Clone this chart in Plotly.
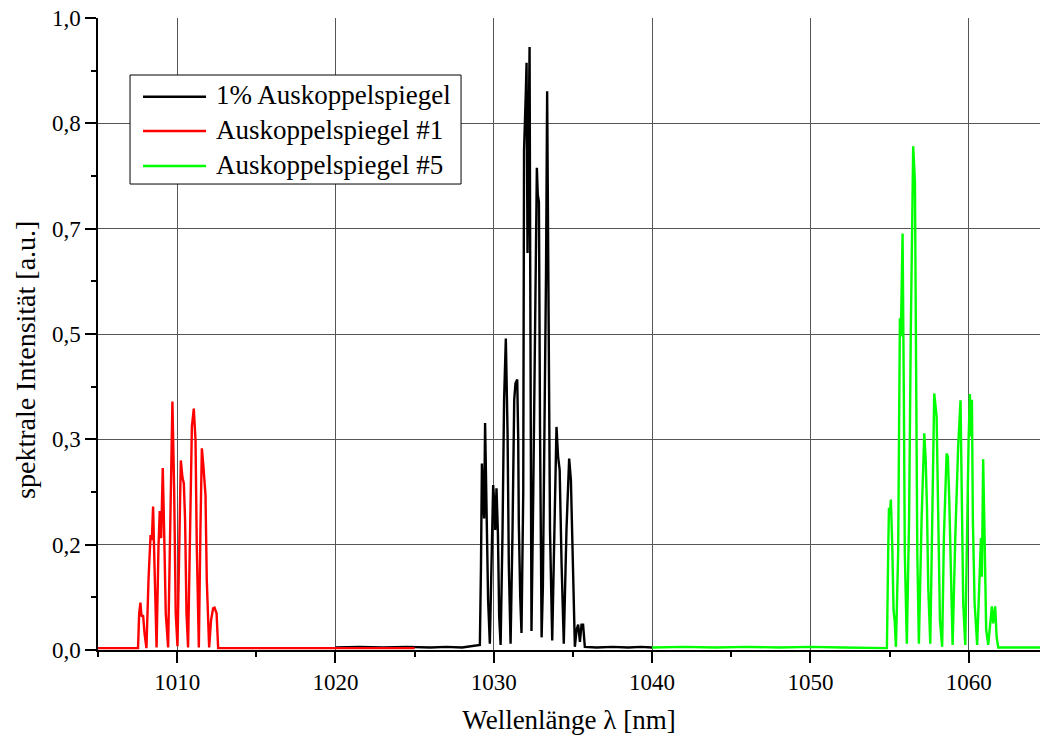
import plotly.graph_objects as go

# Emission spectra measured with three different output couplers
series_names = ["1% Auskoppelspiegel", "Auskoppelspiegel #1", "Auskoppelspiegel #5"]
series_colors = ["#000000", "#ff0000", "#00ff00"]

# 1% output coupler (black)
wl_1pct = [1020.0, 1021.5, 1023.0, 1024.5, 1026.0, 1027.0, 1028.0, 1028.6, 1029.12,
           1029.19, 1029.25, 1029.33, 1029.39, 1029.45, 1029.52, 1029.58, 1029.64, 1029.75,
           1029.86, 1029.96, 1030.02, 1030.09, 1030.17, 1030.26, 1030.34, 1030.43,
           1030.55, 1030.65, 1030.76, 1030.87, 1030.95, 1031.06,
           1031.18, 1031.29, 1031.37, 1031.48, 1031.54, 1031.58, 1031.67, 1031.75,
           1031.86, 1031.91, 1032.02, 1032.07, 1032.13, 1032.20, 1032.26, 1032.30, 1032.33, 1032.38,
           1032.49, 1032.60, 1032.72, 1032.78, 1032.85, 1032.92, 1033.02,
           1033.10, 1033.20, 1033.30, 1033.37, 1033.45, 1033.55, 1033.69,
           1033.81, 1033.96, 1034.06, 1034.16, 1034.28, 1034.42,
           1034.59, 1034.76, 1034.87, 1034.95, 1035.04, 1035.12,
           1035.23, 1035.33, 1035.44, 1035.54, 1035.64, 1035.75,
           1036.5, 1037.5, 1038.5, 1039.3, 1040.0]
int_1pct = [0.004, 0.005, 0.004, 0.005, 0.004, 0.005, 0.004, 0.006, 0.008,
            0.132, 0.295, 0.237, 0.208, 0.359, 0.264, 0.195, 0.079, 0.010,
            0.132, 0.261, 0.237, 0.190, 0.256, 0.185, 0.053, 0.008,
            0.185, 0.396, 0.493, 0.343, 0.132, 0.010,
            0.185, 0.396, 0.422, 0.428, 0.338, 0.200, 0.084, 0.027,
            0.250, 0.790, 0.880, 0.929, 0.628, 0.850, 0.954, 0.612, 0.300, 0.030,
            0.243, 0.470, 0.763, 0.720, 0.709, 0.350, 0.020,
            0.100, 0.330, 0.600, 0.884, 0.500, 0.190, 0.015,
            0.190, 0.353, 0.306, 0.285, 0.137, 0.010,
            0.190, 0.303, 0.269, 0.190, 0.058, 0.005,
            0.032, 0.040, 0.013, 0.040, 0.040, 0.005,
            0.004, 0.005, 0.004, 0.005, 0.004]

# Output coupler #1 (red)
wl_oc1 = [1005.0, 1006.5, 1007.53,
          1007.60, 1007.68, 1007.75, 1007.85, 1007.94, 1008.06,
          1008.19, 1008.32, 1008.40, 1008.48, 1008.57, 1008.70,
          1008.82, 1008.90, 1008.99, 1009.09, 1009.18, 1009.28, 1009.43,
          1009.58, 1009.70, 1009.81, 1009.91, 1010.02,
          1010.12, 1010.23, 1010.34, 1010.42, 1010.50, 1010.59, 1010.69,
          1010.82, 1010.93, 1011.05, 1011.16, 1011.24, 1011.37,
          1011.47, 1011.56, 1011.66, 1011.79, 1011.87, 1012.02,
          1012.14, 1012.27, 1012.36, 1012.49, 1012.59,
          1014.0, 1016.0, 1018.0, 1020.0, 1022.0, 1025.0]
int_oc1 = [0.003, 0.003, 0.003,
           0.058, 0.075, 0.053, 0.055, 0.026, 0.003,
           0.111, 0.182, 0.174, 0.227, 0.132, 0.004,
           0.163, 0.220, 0.177, 0.288, 0.185, 0.058, 0.004,
           0.216, 0.393, 0.253, 0.058, 0.006,
           0.163, 0.300, 0.272, 0.264, 0.206, 0.058, 0.004,
           0.216, 0.353, 0.382, 0.332, 0.163, 0.004,
           0.190, 0.319, 0.290, 0.245, 0.111, 0.004,
           0.047, 0.066, 0.067, 0.058, 0.003,
           0.003, 0.003, 0.003, 0.003, 0.003, 0.003]

# Output coupler #5 (green)
wl_oc5 = [1040.0, 1042.0, 1044.0, 1046.0, 1048.0, 1050.0, 1052.0, 1054.83,
          1054.91, 1054.96, 1055.02, 1055.08, 1055.17, 1055.25, 1055.32, 1055.40,
          1055.54, 1055.65, 1055.71, 1055.82, 1055.90, 1055.96, 1056.09,
          1056.23, 1056.34, 1056.49, 1056.60, 1056.68, 1056.75, 1056.85,
          1057.02, 1057.19, 1057.28, 1057.36, 1057.44, 1057.57,
          1057.70, 1057.82, 1057.97, 1058.07, 1058.18, 1058.32,
          1058.43, 1058.60, 1058.68, 1058.77, 1058.85, 1058.98,
          1059.15, 1059.27, 1059.33, 1059.48, 1059.57, 1059.65, 1059.78,
          1059.90, 1059.99, 1060.07, 1060.13, 1060.20, 1060.26, 1060.37, 1060.53,
          1060.66, 1060.77, 1060.83, 1060.91, 1061.00, 1061.10, 1061.23,
          1061.38, 1061.46, 1061.54, 1061.67, 1061.76, 1061.86,
          1063.0, 1065.0]
int_oc5 = [0.004, 0.005, 0.004, 0.005, 0.004, 0.005, 0.004, 0.003,
           0.153, 0.225, 0.216, 0.238, 0.163, 0.063, 0.047, 0.005,
           0.153, 0.525, 0.496, 0.659, 0.400, 0.153, 0.010,
           0.206, 0.506, 0.797, 0.741, 0.411, 0.153, 0.010,
           0.206, 0.343, 0.300, 0.227, 0.100, 0.010,
           0.258, 0.406, 0.369, 0.206, 0.047, 0.005,
           0.179, 0.311, 0.306, 0.237, 0.127, 0.008,
           0.179, 0.285, 0.322, 0.395, 0.232, 0.074, 0.008,
           0.206, 0.332, 0.405, 0.338, 0.396, 0.206, 0.074, 0.008,
           0.100, 0.177, 0.116, 0.302, 0.179, 0.032, 0.008,
           0.042, 0.069, 0.042, 0.069, 0.021, 0.004,
           0.004, 0.004]

# Axis ticks
x_ticks = [1010, 1020, 1030, 1040, 1050, 1060]
y_ticks = [0, 1 / 6, 2 / 6, 3 / 6, 4 / 6, 5 / 6, 1]
y_tick_labels = ["0,0", "0,2", "0,3", "0,5", "0,7", "0,8", "1,0"]

FONT = "Liberation Serif, Times New Roman, serif"
GRID = "#555555"
LINE_W = 2.4

fig = go.Figure()
for wl, inten, name, color in zip([wl_1pct, wl_oc1, wl_oc5],
                                  [int_1pct, int_oc1, int_oc5],
                                  series_names, series_colors):
    fig.add_trace(go.Scatter(x=wl, y=inten, mode="lines", name=name,
                             line=dict(color=color, width=LINE_W),
                             showlegend=False))

# Boxed legend in the upper left of the plot area (paper coordinates)
box_x0, box_x1, box_y0, box_y1 = 0.034, 0.3854, 0.7373, 0.9098
sample_x0, sample_x1, text_x = 0.0478, 0.1147, 0.1231
row_y = [0.8755, 0.8212, 0.7658]

shapes = [dict(type="rect", xref="paper", yref="paper",
               x0=box_x0, x1=box_x1, y0=box_y0, y1=box_y1,
               line=dict(color="black", width=1), fillcolor="white")]
annotations = []
for name, color, yy in zip(series_names, series_colors, row_y):
    shapes.append(dict(type="line", xref="paper", yref="paper",
                       x0=sample_x0, x1=sample_x1, y0=yy, y1=yy,
                       line=dict(color=color, width=LINE_W)))
    annotations.append(dict(text=name, xref="paper", yref="paper",
                            x=text_x, y=yy + 0.002, xanchor="left", yanchor="middle",
                            showarrow=False, font=dict(family=FONT, size=27)))

annotations.append(dict(text="spektrale Intensität [a.u.]", textangle=-90,
                        xref="paper", yref="paper", x=-0.0764, y=0.459,
                        xanchor="center", yanchor="middle", showarrow=False,
                        font=dict(family=FONT, size=28)))

fig.update_layout(
    width=1040, height=738,
    margin=dict(l=98, r=0, t=18, b=88),
    paper_bgcolor="white", plot_bgcolor="white",
    font=dict(family=FONT, size=23, color="black"),
    showlegend=False,
    xaxis=dict(range=[1005, 1064.5], tickmode="array", tickvals=x_ticks,
               showgrid=True, gridcolor=GRID, gridwidth=1,
               showline=True, linecolor="black", linewidth=1.5,
               ticks="outside", ticklen=11, tickwidth=1.5, tickcolor="black",
               minor=dict(dtick=5, tick0=1005, ticks="outside", ticklen=5,
                          tickwidth=1.5, tickcolor="black", showgrid=False),
               zeroline=False,
               title=dict(text="Wellenlänge λ [nm]", font=dict(size=27), standoff=16)),
    yaxis=dict(range=[0, 1], tickmode="array", tickvals=y_ticks, ticktext=y_tick_labels,
               showgrid=True, gridcolor=GRID, gridwidth=1,
               showline=True, linecolor="black", linewidth=1.5,
               ticks="outside", ticklen=11, tickwidth=1.5, tickcolor="black",
               minor=dict(dtick=1 / 12, tick0=0, ticks="outside", ticklen=5,
                          tickwidth=1.5, tickcolor="black", showgrid=False),
               zeroline=False),
    shapes=shapes,
    annotations=annotations,
)

fig.write_html("out.html")
